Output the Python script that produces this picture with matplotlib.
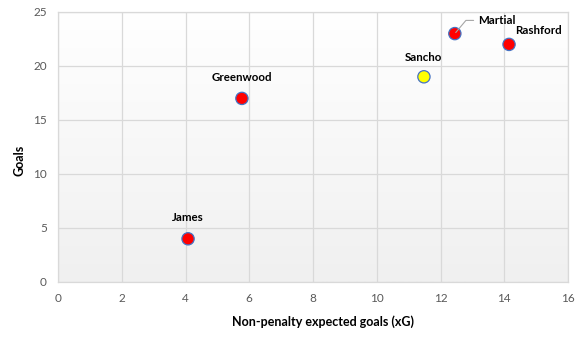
import numpy as np
import matplotlib
matplotlib.use("Agg")
import matplotlib.pyplot as plt

players = ["James", "Greenwood", "Sancho", "Martial", "Rashford"]
npxg = [4.08, 5.77, 11.48, 12.45, 14.15]
goals = [4, 17, 19, 23, 22]
colors = ["#FF0000", "#FF0000", "#FFFF00", "#FF0000", "#FF0000"]
x_ticks = [0, 2, 4, 6, 8, 10, 12, 14, 16]
y_ticks = [0, 5, 10, 15, 20, 25]

plt.rcParams["font.family"] = ["Lato", "DejaVu Sans"]

fig = plt.figure(figsize=(5.88, 3.38), dpi=100)
ax = fig.add_axes([58 / 588, 1 - 282 / 338, 510 / 588, 270 / 338])

# vertical gradient behind the plot: grey at the bottom, white at the top
grad = np.linspace(0, 1, 256).reshape(-1, 1)
cmap = matplotlib.colors.LinearSegmentedColormap.from_list("bg", ["#F0F0F0", "#FFFFFF"])
ax.imshow(grad, extent=[0, 16, 0, 25], aspect="auto", cmap=cmap, zorder=0,
          origin="lower")
ax.set_xlim(0, 16)
ax.set_ylim(0, 25)

ax.set_xticks(x_ticks)
ax.set_yticks(y_ticks)
ax.grid(True, color="#D9D9D9", linewidth=0.9, zorder=1)
ax.set_axisbelow(True)
for side in ["top", "right", "left", "bottom"]:
    ax.spines[side].set_color("#D9D9D9")
    ax.spines[side].set_linewidth(0.9)
ax.tick_params(length=0, labelsize=8.5, colors="#595959", pad=8)

ax.scatter(npxg, goals, s=78, c=colors, edgecolors="#4472C4", linewidths=0.9,
           zorder=3)

offsets = {
    "James": (0, 15, "center"),
    "Greenwood": (0, 15, "center"),
    "Sancho": (0, 14, "center"),
    "Martial": (16.5, 9.5, "left"),
    "Rashford": (4.5, 10, "left"),
}
for name, x, y in zip(players, npxg, goals):
    dx, dy, ha = offsets[name]
    kw = {}
    if name == "Martial":
        kw["arrowprops"] = dict(arrowstyle="-", color="#A6A6A6", lw=0.8,
                                shrinkA=1, shrinkB=1,
                                connectionstyle="angle,angleA=0,angleB=50,rad=0")
    ax.annotate(name, (x, y), xytext=(dx, dy), textcoords="offset points",
                ha=ha, va="center", fontsize=8.3, fontweight="bold",
                color="#000000", zorder=4, **kw)

ax.set_xlabel("Non-penalty expected goals (xG)", fontsize=9, fontweight="bold")
ax.set_ylabel("Goals", fontsize=9, fontweight="bold")
ax.xaxis.label.set_va("center")
ax.yaxis.label.set_va("center")
ax.xaxis.set_label_coords((323 - 58) / 510, (282 - 322) / 270)
ax.yaxis.set_label_coords((20 - 58) / 510, (282 - 160) / 270)

fig.savefig("out.png", dpi=100)
